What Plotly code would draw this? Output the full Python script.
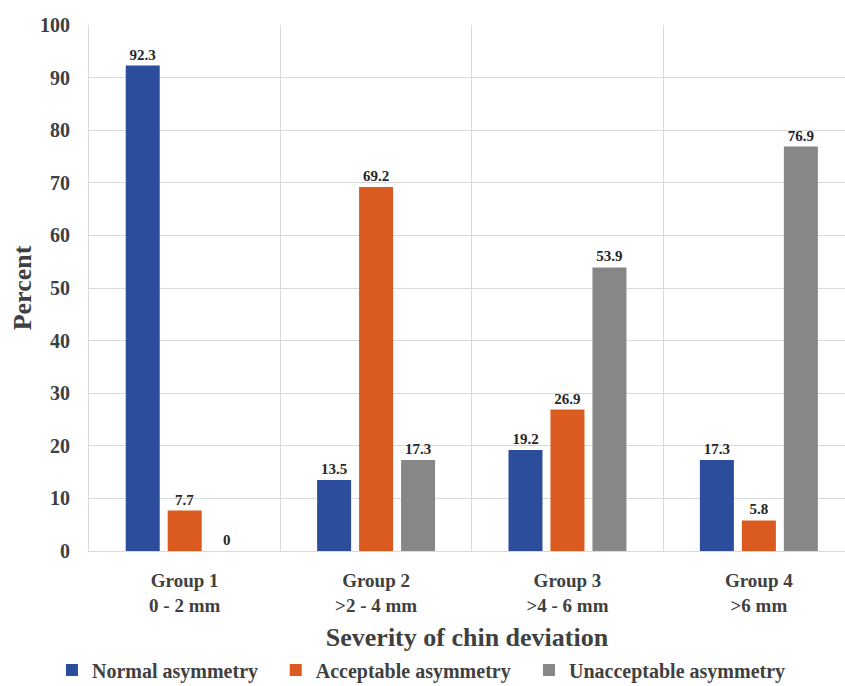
import plotly.graph_objects as go

groups = ["Group 1<br>0 - 2 mm", "Group 2<br>>2 - 4 mm", "Group 3<br>>4 - 6 mm", "Group 4<br>>6 mm"]
normal = [92.3, 13.5, 19.2, 17.3]
acceptable = [7.7, 69.2, 26.9, 5.8]
unacceptable = [0, 17.3, 53.9, 76.9]

series = [
    ("Normal asymmetry", normal, "#2C4D9C"),
    ("Acceptable asymmetry", acceptable, "#DA5A1F"),
    ("Unacceptable asymmetry", unacceptable, "#878787"),
]

serif = "Liberation Serif, Times New Roman, serif"
legend_ids = ["legend", "legend2", "legend3"]
legend_x = [-0.049, 0.247, 0.582]

fig = go.Figure()
for (name, vals, color), lid in zip(series, legend_ids):
    fig.add_trace(go.Bar(
        x=groups, y=vals, name=name, legend=lid,
        marker=dict(color=color, line=dict(width=0)),
        text=[f"{v:g}" for v in vals],
        textposition="outside",
        constraintext="none",
        cliponaxis=False,
        textfont=dict(family=serif, size=15, color="#262626", weight="bold"),
    ))

legend_style = dict(
    orientation="h", xanchor="left", y=-0.226, yanchor="middle",
    font=dict(family=serif, size=20, color="#404040", weight="bold"),
    itemwidth=30, bgcolor="rgba(0,0,0,0)",
)

fig.update_layout(
    width=845, height=686,
    margin=dict(l=89, r=0, t=25, b=135, autoexpand=False),
    paper_bgcolor="white", plot_bgcolor="white",
    barmode="group", bargap=0.342, bargroupgap=0.19,
    font=dict(family=serif, color="#404040"),
    showlegend=True,
    legend=dict(x=legend_x[0], **legend_style),
    legend2=dict(x=legend_x[1], **legend_style),
    legend3=dict(x=legend_x[2], **legend_style),
)

fig.update_xaxes(
    type="category", range=[-0.5, 3.45], tickson="boundaries",
    showgrid=True, gridcolor="#D9D9D9", gridwidth=1,
    showline=True, linecolor="#D9D9D9", ticks="", ticklen=0,
    ticklabelstandoff=12, automargin=False,
    tickfont=dict(family=serif, size=19, color="#404040", weight="bold"),
    title=dict(text="Severity of chin deviation", standoff=13,
               font=dict(family=serif, size=26, color="#404040", weight="bold")),
)
fig.update_yaxes(
    range=[0, 100], dtick=10, showgrid=True, gridcolor="#D9D9D9", gridwidth=1,
    zeroline=False, showline=True, linecolor="#D9D9D9", ticks="",
    tickfont=dict(family=serif, size=20, color="#404040", weight="bold"),
    ticklabelstandoff=14, automargin=False,
    title=dict(text="Percent", standoff=0,
               font=dict(family=serif, size=26, color="#404040", weight="bold")),
)

fig.write_html("out.html")
